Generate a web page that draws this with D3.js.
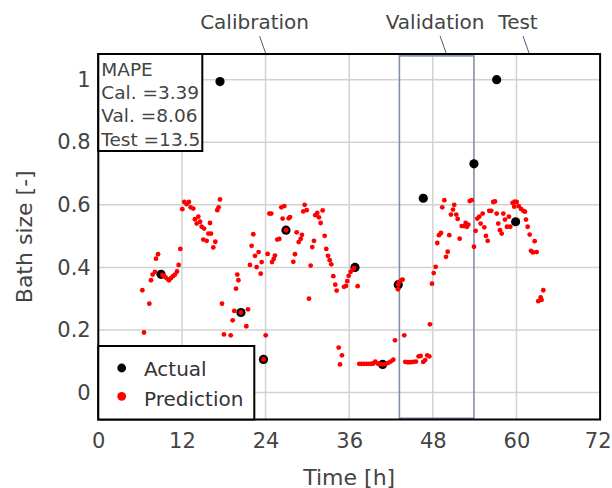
<!DOCTYPE html>
<html>
<head>
<meta charset="utf-8">
<script src="https://cdn.jsdelivr.net/npm/d3@7"></script>
<style>
  body { margin: 0; background: #fff; }
  svg { display: block; font-family: "DejaVu Sans", Verdana, sans-serif; }
</style>
</head>
<body>
<div id="chart"></div>
<script>
// measured points (time in hours, bath size)
const actualTime  = [9.0, 17.46, 20.47, 23.7, 26.93, 36.83, 40.8, 43.04, 46.63, 53.9, 57.16, 59.88]
const actualValue = [0.378, 0.994, 0.256, 0.106, 0.519, 0.400, 0.090, 0.345, 0.621, 0.731, 1.0, 0.546]

// model predictions
const predTime = [
  6.56, 6.32, 7.32, 7.56, 7.8, 8.13, 8.28, 8.57, 9.2, 9.37, 9.66, 9.99, 10.14, 10.43, 10.72, 11.0, 11.29, 11.53, 11.77,
  12.05, 12.34, 12.68, 13.0, 13.25, 13.63, 13.87, 14.12, 14.35, 14.6, 14.83, 15.07, 15.17, 15.55, 15.79, 16.03, 16.17, 16.5, 16.79, 17.07, 17.27, 17.46,
  17.75, 18.03, 19.0, 19.28, 19.51, 19.76, 19.94, 20.1, 20.47, 21.24, 21.48, 21.76, 22.0, 22.24, 22.48, 22.72, 23.0, 23.3, 23.44, 23.7, 24.02,
  24.3, 24.54, 24.82, 24.92, 25.16, 25.35, 25.68, 25.97, 26.26, 26.45, 26.69, 26.93, 27.32, 27.5, 27.98, 28.22, 28.46, 28.75, 29.04, 29.22, 29.41, 29.61, 29.9,
  30.23, 30.47, 30.7, 30.95, 31.13, 31.42, 31.66, 31.9, 32.19, 32.48, 32.71, 32.96, 33.2, 33.43, 33.72, 34.0, 34.2, 34.49, 34.68, 34.96, 35.25, 35.54, 35.72, 35.93, 36.21, 36.5, 36.7, 37.21,
  37.45, 37.79, 38.12, 38.5, 38.84, 39.17, 39.45, 39.74, 40.09, 40.41, 40.8, 41.23, 41.6, 41.95, 42.32, 42.57, 43.0, 43.04, 43.19, 43.47, 43.67, 43.9,
  44.05, 44.43, 44.82, 45.19, 45.58, 45.96, 46.25, 46.62, 46.91, 47.2, 47.49, 47.59, 47.88, 48.12, 48.41, 48.64, 48.88, 49.17, 49.35, 49.65, 49.89, 50.13,
  50.36, 50.6, 50.89, 51.07, 51.36, 51.56, 51.85, 52.14, 52.47, 52.71, 52.9, 53.09, 53.29, 53.57, 53.9,
  54.14, 54.38, 54.66, 54.86, 55.15, 55.38, 55.62, 55.87, 56.1, 56.38, 56.67, 56.92, 57.16, 57.39, 57.63, 57.88, 58.11, 58.35, 58.64, 58.92,
  59.11, 59.45, 59.68, 59.74, 60.03, 60.32, 60.65, 60.98, 61.22, 61.37, 61.61, 61.9, 62.08, 62.37, 62.61, 62.9, 63.13, 63.47, 63.6, 63.85
]
const predValue = [
  0.192, 0.327, 0.284, 0.359, 0.377, 0.386, 0.428, 0.442, 0.376, 0.374, 0.368, 0.362, 0.359, 0.366, 0.372, 0.377, 0.387, 0.408, 0.459,
  0.586, 0.609, 0.602, 0.609, 0.592, 0.588, 0.554, 0.540, 0.562, 0.546, 0.530, 0.489, 0.524, 0.485, 0.508, 0.542, 0.508, 0.464, 0.482, 0.583, 0.592, 0.617,
  0.284, 0.186, 0.183, 0.231, 0.261, 0.332, 0.377, 0.359, 0.256, 0.212, 0.266, 0.408, 0.469, 0.506, 0.437, 0.401, 0.449, 0.380, 0.417, 0.106, 0.183,
  0.443, 0.572, 0.572, 0.417, 0.427, 0.438, 0.489, 0.491, 0.592, 0.556, 0.596, 0.519, 0.557, 0.561, 0.418, 0.442, 0.512, 0.481, 0.491, 0.504, 0.579, 0.600, 0.583,
  0.300, 0.406, 0.465, 0.485, 0.567, 0.574, 0.560, 0.542, 0.582, 0.501, 0.459, 0.437, 0.423, 0.410, 0.372, 0.345, 0.326, 0.144, 0.090, 0.119, 0.338, 0.341, 0.356, 0.373, 0.386, 0.393, 0.398, 0.340,
  0.092, 0.092, 0.092, 0.092, 0.092, 0.092, 0.093, 0.099, 0.093, 0.091, 0.090, 0.091, 0.095, 0.099, 0.105, 0.167, 0.330, 0.345, 0.354, 0.359, 0.361, 0.183,
  0.098, 0.097, 0.097, 0.098, 0.099, 0.116, 0.117, 0.098, 0.104, 0.119, 0.116, 0.218, 0.348, 0.382, 0.402, 0.478, 0.503, 0.510, 0.592, 0.615, 0.434, 0.450,
  0.503, 0.569, 0.585, 0.600, 0.569, 0.555, 0.492, 0.532, 0.532, 0.542, 0.530, 0.537, 0.612, 0.615, 0.466,
  0.517, 0.556, 0.562, 0.540, 0.572, 0.528, 0.501, 0.485, 0.581, 0.581, 0.609, 0.611, 0.572, 0.540, 0.519, 0.508, 0.572, 0.553, 0.530, 0.562,
  0.530, 0.606, 0.594, 0.610, 0.609, 0.596, 0.587, 0.581, 0.578, 0.553, 0.530, 0.505, 0.453, 0.448, 0.484, 0.449, 0.292, 0.304, 0.296, 0.327
]

const xTicks = [0, 12, 24, 36, 48, 60, 72]
const yTicks = [0, 0.2, 0.4, 0.6, 0.8, 1]
const validationSpan = [43.2, 53.9]
const periodLabels = ["Calibration", "Validation", "Test"]
const periodMarks = [24, 49.9, 61.8]
const mapeLines = ["MAPE", "Cal. =3.39", "Val. =8.06", "Test =13.5"]
const legendNames = ["Actual", "Prediction"]
const legendColors = ["#000", "#ff0000"]

const W = 612, H = 488
const plotL = 98.3, plotR = 600.1, plotT = 54, plotB = 419.5

const svg = d3.select("#chart").append("svg")
  .attr("width", W)
  .attr("height", H)

const x = d3.scaleLinear().domain([0, 72]).range([plotL, plotR])
const y = d3.scaleLinear().domain([-0.086, 1.082]).range([plotB, plotT])

// grid
svg.append("g").selectAll("line").data(xTicks.slice(1, -1))
  .enter().append("line")
    .attr("x1", d => x(d)).attr("x2", d => x(d))
    .attr("y1", plotT).attr("y2", plotB)
    .attr("stroke", "#d2d2d2").attr("stroke-width", 1.5)
svg.append("g").selectAll("line").data(yTicks)
  .enter().append("line")
    .attr("x1", plotL).attr("x2", plotR)
    .attr("y1", d => y(d)).attr("y2", d => y(d))
    .attr("stroke", "#d2d2d2").attr("stroke-width", 1.5)

// validation window
svg.append("rect")
  .attr("x", x(validationSpan[0]))
  .attr("y", y(1.076))
  .attr("width", x(validationSpan[1]) - x(validationSpan[0]))
  .attr("height", y(-0.082) - y(1.076))
  .attr("fill", "none")
  .attr("stroke", "#8290ae")
  .attr("stroke-width", 1.6)

// actual values
svg.append("g").selectAll("circle").data(actualTime)
  .enter().append("circle")
    .attr("cx", d => x(d))
    .attr("cy", (d, i) => y(actualValue[i]))
    .attr("r", 4.6)
    .attr("fill", "#000")

// predictions
svg.append("g").selectAll("circle").data(predTime)
  .enter().append("circle")
    .attr("cx", d => x(d))
    .attr("cy", (d, i) => y(predValue[i]))
    .attr("r", 2.4)
    .attr("fill", "#ff0000")

// frame
svg.append("rect")
  .attr("x", plotL).attr("y", plotT)
  .attr("width", plotR - plotL).attr("height", plotB - plotT)
  .attr("fill", "none").attr("stroke", "#000").attr("stroke-width", 2)

// axes
const xAxis = svg.append("g")
  .attr("transform", "translate(0," + plotB + ")")
  .call(d3.axisBottom(x).tickValues(xTicks).tickSize(0).tickPadding(13.5))
xAxis.select(".domain").remove()
xAxis.selectAll("text").attr("font-size", 21).attr("fill", "#444")
  .attr("font-family", "DejaVu Sans, Verdana, sans-serif")
// last label would spill past the page edge
xAxis.selectAll(".tick").filter(d => d === 72).select("text")
  .attr("text-anchor", "end").attr("x", W - 1 - x(72))

const yAxis = svg.append("g")
  .attr("transform", "translate(" + plotL + ",0)")
  .call(d3.axisLeft(y).tickValues(yTicks).tickSize(0).tickPadding(7.6).tickFormat(d3.format("~g")))
yAxis.select(".domain").remove()
yAxis.selectAll("text").attr("font-size", 21).attr("fill", "#444")
  .attr("font-family", "DejaVu Sans, Verdana, sans-serif")

svg.append("text")
  .text("Time [h]")
  .attr("x", (plotL + plotR) / 2)
  .attr("y", 484.5)
  .attr("text-anchor", "middle")
  .attr("font-size", 22)
  .attr("fill", "#444")

svg.append("text")
  .text("Bath size [-]")
  .attr("transform", "translate(31.5," + ((plotT + plotB) / 2) + ") rotate(-90)")
  .attr("text-anchor", "middle")
  .attr("font-size", 22)
  .attr("fill", "#444")

// period annotations
const ann = svg.append("g")
ann.selectAll("line").data(periodMarks)
  .enter().append("line")
    .attr("x1", d => x(d) - 6).attr("y1", plotT - 18)
    .attr("x2", d => x(d)).attr("y2", plotT - 1)
    .attr("stroke", "#4a5d7e").attr("stroke-width", 1)
ann.selectAll("text").data(periodMarks)
  .enter().append("text")
    .text((d, i) => periodLabels[i])
    .attr("x", d => x(d) - 11)
    .attr("y", 29.3)
    .attr("text-anchor", "middle")
    .attr("font-size", 20)
    .attr("fill", "#444")

// MAPE box
svg.append("rect")
  .attr("x", plotL).attr("y", plotT)
  .attr("width", 104).attr("height", 97)
  .attr("fill", "#fff").attr("stroke", "#000").attr("stroke-width", 2)
svg.append("g").selectAll("text").data(mapeLines)
  .enter().append("text")
    .text(d => d)
    .attr("x", plotL + 3)
    .attr("y", (d, i) => 76 + i * 23.2)
    .attr("font-size", 18.5)
    .attr("fill", "#444")

// legend
const legend = svg.append("g")
legend.append("rect")
  .attr("x", plotL).attr("y", 346)
  .attr("width", 156).attr("height", plotB - 346)
  .attr("fill", "#fff").attr("stroke", "#000").attr("stroke-width", 2)
legend.selectAll("circle").data(legendNames)
  .enter().append("circle")
    .attr("cx", 121.7)
    .attr("cy", (d, i) => 368 + i * 28.3)
    .attr("r", 4.4)
    .attr("fill", (d, i) => legendColors[i])
legend.selectAll("text").data(legendNames)
  .enter().append("text")
    .text(d => d)
    .attr("x", 144)
    .attr("y", (d, i) => 375.7 + i * 30)
    .attr("font-size", 20)
    .attr("fill", "#333")
</script>
</body>
</html>
